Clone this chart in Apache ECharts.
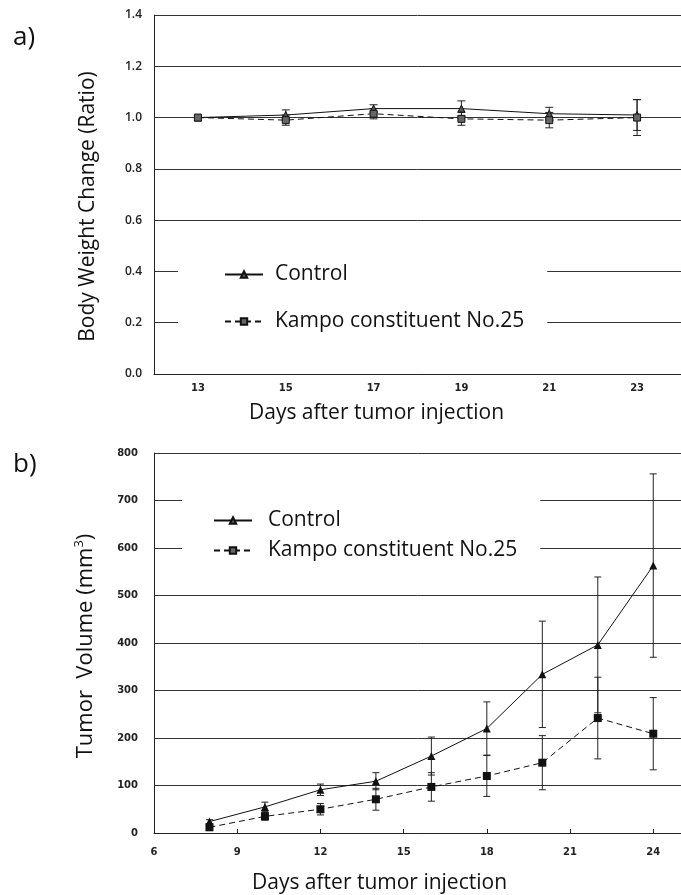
<!DOCTYPE html>
<html><head><meta charset="utf-8">
<script src="https://cdn.jsdelivr.net/npm/echarts@6/dist/echarts.min.js"></script>
<style>html,body{margin:0;padding:0;background:#fff}#c{width:681px;height:895px}</style>
</head><body><div id="c"></div>
<script>
// ---- Panel a: body weight change ----
const daysA = ['13', '15', '17', '19', '21', '23'];
const controlA = [1.00, 1.01, 1.035, 1.035, 1.015, 1.01];
const controlErrA = [0, 0.02, 0.015, 0.03, 0.025, 0.06];
const kampoA = [1.00, 0.99, 1.015, 0.995, 0.99, 1.00];
const kampoErrA = [0, 0.02, 0.02, 0.025, 0.03, 0.07];

// ---- Panel b: tumor volume ----
const daysB = [8, 10, 12, 14, 16, 18, 20, 22, 24];
const controlB = [24, 55, 91, 109, 162, 220, 334, 396, 563];
const controlErrB = [4, 10, 12, 18, 40, 56, 112, 143, 193];
const kampoB = [12, 35, 50, 71, 97, 120, 148, 242, 209];
const kampoErrB = [4, 8, 12, 23, 30, 43, 57, 86, 76];

const names = ['Control', 'Kampo constituent No.25'];

const FONT = 'Open Sans';
const chart = echarts.init(document.getElementById('c'), null, {renderer: 'canvas'});

function errRender(capW) {
  return function (params, api) {
    const x = api.value(0), lo = api.value(1), hi = api.value(2);
    if (hi - lo <= 0) return null;
    const a = api.coord([x, lo]), b = api.coord([x, hi]);
    const st = {stroke: '#222', lineWidth: 1};
    return {type: 'group', children: [
      {type: 'line', shape: {x1: a[0], y1: a[1], x2: b[0], y2: b[1]}, style: st},
      {type: 'line', shape: {x1: a[0] - capW, y1: a[1], x2: a[0] + capW, y2: a[1]}, style: st},
      {type: 'line', shape: {x1: b[0] - capW, y1: b[1], x2: b[0] + capW, y2: b[1]}, style: st}
    ]};
  };
}
function errData(xs, vals, errs, useIndex) {
  return vals.map((v, i) => [useIndex ? i : xs[i], v - errs[i], v + errs[i]]);
}

const gridLine = {show: true, lineStyle: {color: '#333', width: 1}};

const option = {
  backgroundColor: '#fff',
  animation: false,
  title: [
    {text: 'a)', left: 8, top: 20, textStyle: {fontFamily: FONT, fontSize: 26, fontWeight: 'normal', color: '#111'}},
    {text: 'b)', left: 8, top: 447, textStyle: {fontFamily: FONT, fontSize: 26, fontWeight: 'normal', color: '#111'}}
  ],
  grid: [
    {left: 154, top: 15, right: -5, height: 359},
    {left: 154, top: 453, right: 0, height: 386}
  ],
  legend: [
    {orient: 'vertical', left: 178, top: 254, padding: [10, 23, 10, 46], itemGap: 26,
     itemWidth: 38, itemHeight: 8, backgroundColor: '#fff', data: names, selectedMode: false,
     textStyle: {fontFamily: FONT, fontSize: 21, color: '#111', padding: [0, 0, 0, 7]}},
    {orient: 'vertical', left: 182, top: 485, padding: [25, 23, 10, 31], itemGap: 9,
     itemWidth: 38, itemHeight: 8, backgroundColor: '#fff', data: names, selectedMode: false,
     textStyle: {fontFamily: FONT, fontSize: 21, color: '#111', padding: [0, 0, 0, 11]}}
  ],
  xAxis: [
    {gridIndex: 0, type: 'category', data: daysA, boundaryGap: true,
     axisLine: {lineStyle: {color: '#222'}},
     axisTick: {inside: true, length: 4, lineStyle: {color: '#222'}},
     axisLabel: {margin: 9, fontFamily: 'DejaVu Sans', fontWeight: 'bold', fontSize: 10, color: '#222'},
     name: 'Days after tumor injection', nameLocation: 'middle', nameGap: 29,
     nameTextStyle: {fontFamily: FONT, fontSize: 21, color: '#111', padding: [0, 82, 0, 0]}},
    {gridIndex: 1, type: 'value', min: 6, max: 25, interval: 3,
     splitLine: {show: false},
     axisLine: {lineStyle: {color: '#222'}},
     axisTick: {inside: true, length: 4, lineStyle: {color: '#222'}},
     axisLabel: {margin: 14, showMaxLabel: false, fontFamily: 'DejaVu Sans', fontWeight: 'bold', fontSize: 10, color: '#222'},
     name: 'Days after tumor injection', nameLocation: 'middle', nameGap: 40,
     nameTextStyle: {fontFamily: FONT, fontSize: 21, color: '#111', padding: [0, 76, 0, 0]}}
  ],
  yAxis: [
    {gridIndex: 0, type: 'value', min: 0, max: 1.4, interval: 0.2,
     splitLine: gridLine,
     axisLine: {show: true, lineStyle: {color: '#222'}},
     axisTick: {show: false},
     axisLabel: {margin: 12, fontFamily: FONT, fontSize: 12, fontWeight: 600, color: '#222', formatter: v => v.toFixed(1)},
     name: 'Body Weight Change (Ratio)', nameLocation: 'middle', nameRotate: 90, nameGap: 55,
     nameTextStyle: {fontFamily: FONT, fontSize: 21, color: '#111', padding: [0, 24, 0, 0]}},
    {gridIndex: 1, type: 'value', min: 0, max: 800, interval: 100,
     splitLine: gridLine,
     axisLine: {show: true, lineStyle: {color: '#222'}},
     axisTick: {show: false},
     axisLabel: {margin: 16, fontFamily: 'DejaVu Sans', fontWeight: 'bold', fontSize: 10, color: '#222'},
     name: '{t|Tumor  Volume (mm}{s|3}{t|)}', nameLocation: 'middle', nameRotate: 90, nameGap: 55,
     nameTextStyle: {padding: [0, 6, 0, 0], rich: {
       t: {fontFamily: FONT, fontSize: 22, color: '#111'},
       s: {fontFamily: FONT, fontSize: 13, color: '#111', verticalAlign: 'top', padding: [0, 0, 13, 0]}
     }}}
  ],
  series: [
    {name: 'Control', type: 'line', xAxisIndex: 0, yAxisIndex: 0, data: controlA,
     symbol: 'triangle', symbolSize: 7, itemStyle: {color: '#555', borderColor: '#111', borderWidth: 1},
     lineStyle: {color: '#111', width: 1}, z: 3},
    {name: 'Kampo constituent No.25', type: 'line', xAxisIndex: 0, yAxisIndex: 0, data: kampoA,
     symbol: 'rect', symbolSize: 7, itemStyle: {color: '#666', borderColor: '#111', borderWidth: 1},
     lineStyle: {color: '#111', width: 1, type: [6, 4]}, z: 3},
    {type: 'custom', xAxisIndex: 0, yAxisIndex: 0, renderItem: errRender(4),
     data: errData(daysA, controlA, controlErrA, true), z: 2, silent: true},
    {type: 'custom', xAxisIndex: 0, yAxisIndex: 0, renderItem: errRender(4),
     data: errData(daysA, kampoA, kampoErrA, true), z: 2, silent: true},

    {name: 'Control', type: 'line', xAxisIndex: 1, yAxisIndex: 1, data: daysB.map((d, i) => [d, controlB[i]]),
     symbol: 'triangle', symbolSize: 8, itemStyle: {color: '#111'},
     lineStyle: {color: '#111', width: 1}, z: 3},
    {name: 'Kampo constituent No.25', type: 'line', xAxisIndex: 1, yAxisIndex: 1, data: daysB.map((d, i) => [d, kampoB[i]]),
     symbol: 'rect', symbolSize: 8, itemStyle: {color: '#111'},
     lineStyle: {color: '#111', width: 1, type: [6, 4]}, z: 3},
    {type: 'custom', xAxisIndex: 1, yAxisIndex: 1, renderItem: errRender(3.5),
     data: errData(daysB, controlB, controlErrB, false), z: 2, silent: true},
    {type: 'custom', xAxisIndex: 1, yAxisIndex: 1, renderItem: errRender(3.5),
     data: errData(daysB, kampoB, kampoErrB, false), z: 2, silent: true}
  ]
};
chart.setOption(option);
</script>
</body></html>
